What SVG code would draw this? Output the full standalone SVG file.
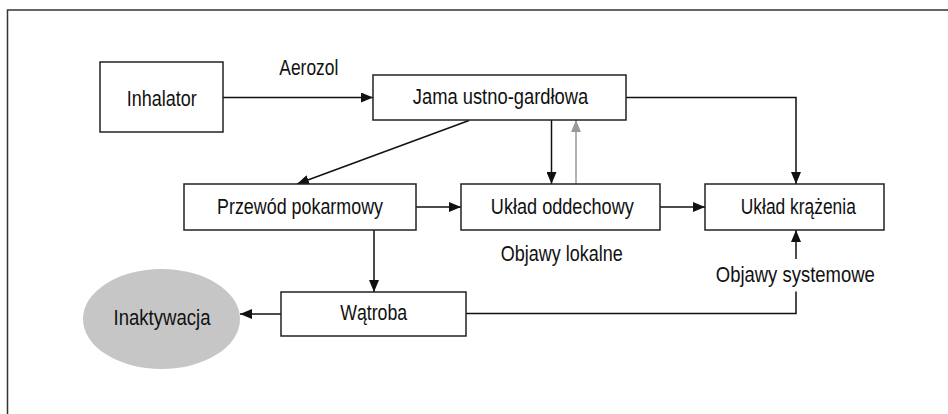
<svg xmlns="http://www.w3.org/2000/svg" width="948" height="414" viewBox="0 0 948 414">
<style>
.box{fill:#fff;stroke:#222;stroke-width:1.5}
.t{font-family:"Liberation Sans","Arial",sans-serif;font-size:22px;fill:#111;text-anchor:middle}
.c{fill:none;stroke:#111;stroke-width:1.5}
</style>
<defs>
<marker id="a" viewBox="0 0 12 10" refX="12" refY="5" markerWidth="12" markerHeight="10" markerUnits="userSpaceOnUse" orient="auto"><path d="M0,0L12,5L0,10z" fill="#111"/></marker>
<marker id="g" viewBox="0 0 12 10" refX="12" refY="5" markerWidth="12" markerHeight="10" markerUnits="userSpaceOnUse" orient="auto"><path d="M0,0L12,5L0,10z" fill="#999"/></marker>
</defs>
<rect x="7.5" y="10" width="960" height="420" fill="none" stroke="#333" stroke-width="1.5"/>
<g id="connectors">
<path class="c" d="M223,97.5H373" marker-end="url(#a)"/>
<path class="c" d="M469,120.5L297,184" marker-end="url(#a)"/>
<path class="c" d="M551.5,120V184" marker-end="url(#a)"/>
<path d="M576,184V120" fill="none" stroke="#999" stroke-width="1.5" marker-end="url(#g)"/>
<path class="c" d="M626,97.5H796V184" marker-end="url(#a)"/>
<path class="c" d="M416,207H461" marker-end="url(#a)"/>
<path class="c" d="M660,207H705" marker-end="url(#a)"/>
<path class="c" d="M374,230V292" marker-end="url(#a)"/>
<path class="c" d="M281,314H240" marker-end="url(#a)"/>
<path class="c" d="M466,313.5H796V291.5"/>
<path class="c" d="M796,259V230" marker-end="url(#a)"/>
</g>
<g id="inhalator"><rect class="box" x="100" y="62" width="123" height="70"/><text class="t" x="161.7" y="106" textLength="70" lengthAdjust="spacingAndGlyphs">Inhalator</text></g>
<text class="t" x="308.8" y="75" textLength="59" lengthAdjust="spacingAndGlyphs">Aerozol</text>
<g id="jama"><rect class="box" x="373" y="75" width="253" height="45"/><text class="t" x="500.5" y="103.5" textLength="175.5" lengthAdjust="spacingAndGlyphs">Jama ustno-gardłowa</text></g>
<g id="przewod"><rect class="box" x="184" y="184" width="232" height="46"/><text class="t" x="300" y="214.3" textLength="166" lengthAdjust="spacingAndGlyphs">Przewód pokarmowy</text></g>
<g id="oddechowy"><rect class="box" x="461" y="184" width="199" height="46"/><text class="t" x="562.3" y="214.3" textLength="143" lengthAdjust="spacingAndGlyphs">Układ oddechowy</text></g>
<g id="krazenia"><rect class="box" x="705" y="184" width="179" height="46"/><text class="t" x="798.3" y="214.3" textLength="115" lengthAdjust="spacingAndGlyphs">Układ krążenia</text></g>
<text class="t" x="561.7" y="261" textLength="122" lengthAdjust="spacingAndGlyphs">Objawy lokalne</text>
<text class="t" x="795.3" y="282" textLength="159" lengthAdjust="spacingAndGlyphs">Objawy systemowe</text>
<g id="watroba"><rect class="box" x="281" y="292" width="185" height="44"/><text class="t" x="373.7" y="319.5" textLength="67" lengthAdjust="spacingAndGlyphs">Wątroba</text></g>
<g id="inaktywacja"><ellipse cx="161.5" cy="319" rx="78.5" ry="50" fill="#c6c6c6"/><text class="t" x="162" y="325" textLength="97" lengthAdjust="spacingAndGlyphs">Inaktywacja</text></g>
</svg>
